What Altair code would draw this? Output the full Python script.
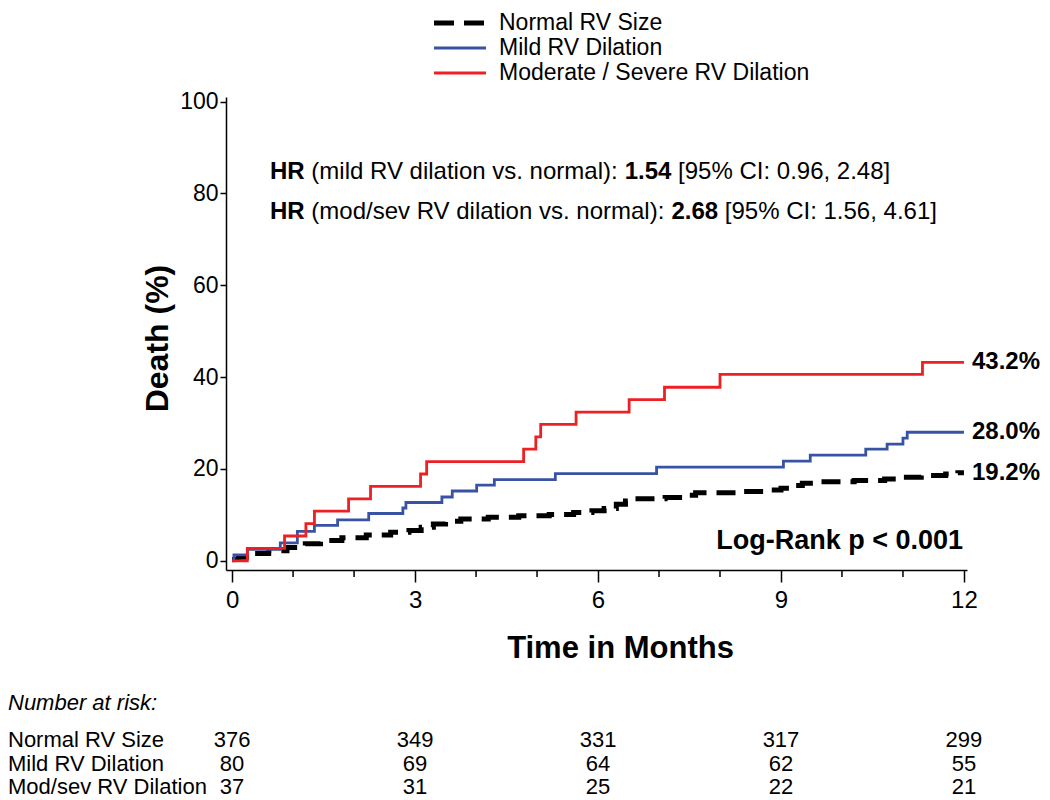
import altair as alt
import pandas as pd

FONT = "Liberation Sans"

# ---------------- data ----------------
series_names = ["Normal RV Size", "Mild RV Dilation", "Moderate / Severe RV Dilation"]
series_colors = ["#000000", "#3953A4", "#ED2024"]

normal_t = [0, 0.1, 0.35, 0.6, 0.9, 1.2, 1.45, 1.8, 2.2, 2.6, 2.9, 3.1, 3.3, 3.5, 3.75,
            4.2, 4.7, 5.2, 5.6, 5.9, 6.1, 6.3, 6.45, 6.6, 7.1, 7.4, 7.6, 8.3, 8.8,
            9.0, 9.15, 9.35, 9.6, 10.2, 10.7, 11.0, 11.3, 11.7, 11.9, 12.0]
normal_v = [0.3, 0.8, 1.6, 2.2, 2.9, 3.7, 4.4, 5.0, 5.6, 6.2, 6.6, 7.3, 8.0, 8.6, 9.1,
            9.5, 9.8, 10.1, 10.5, 10.9, 11.4, 12.3, 13.0, 13.5, 13.8, 14.3, 14.8, 15.1, 15.4,
            15.8, 16.4, 16.9, 17.2, 17.5, 17.8, 18.2, 18.6, 18.9, 19.2, 19.2]

mild_t = [0, 0.03, 0.25, 0.79, 1.07, 1.35, 1.73, 2.24, 2.80, 2.85, 3.44, 3.61, 4.01, 4.30,
          5.30, 6.96, 9.04, 9.48, 10.39, 10.74, 11.00, 11.07, 12.0]
mild_v = [0, 1.3, 2.5, 3.9, 6.4, 7.7, 8.9, 10.3, 11.5, 12.7, 13.9, 15.2, 16.5, 17.7,
          19.0, 20.4, 21.7, 23.0, 24.3, 25.4, 26.7, 28.0, 28.0]

mod_t = [0, 0.25, 0.86, 1.21, 1.35, 1.91, 2.27, 3.09, 3.19, 4.78, 4.98, 5.06, 5.64,
         6.51, 7.09, 8.0, 11.32, 12.0]
mod_v = [0, 2.7, 5.4, 8.1, 10.8, 13.5, 16.2, 18.9, 21.6, 24.3, 27.0, 29.7, 32.4,
         35.1, 37.8, 40.6, 43.2, 43.2]

end_labels = ["43.2%", "28.0%", "19.2%"]
end_values = [43.2, 28.0, 19.2]

risk_months = [0, 3, 6, 9, 12]
risk_labels = ["Normal RV Size", "Mild RV Dilation", "Mod/sev RV Dilation"]
risk_normal = [376, 349, 331, 317, 299]
risk_mild = [80, 69, 64, 62, 55]
risk_mod = [37, 31, 25, 22, 21]

minor_months = [1, 2, 4, 5, 7, 8, 10, 11]

# ---------------- layout ----------------
W, H = 741, 473
x_scale = alt.Scale(domain=[-0.1, 12.05], nice=False, zero=False)
y_scale = alt.Scale(domain=[-2, 101], nice=False, zero=False)


def curve(ts, vs, color, width, dash=None):
    df = pd.DataFrame({"t": ts, "v": vs})
    kw = dict(interpolate="step-after", color=color, strokeWidth=width, clip=False)
    if dash:
        kw["strokeDash"] = dash
    return alt.Chart(df).mark_line(**kw).encode(
        x=alt.X("t:Q", scale=x_scale),
        y=alt.Y("v:Q", scale=y_scale),
    )


base_axes = alt.Chart(pd.DataFrame({"t": [0.0], "v": [0.0]})).mark_point(opacity=0).encode(
    x=alt.X("t:Q", scale=x_scale,
            axis=alt.Axis(values=[0, 3, 6, 9, 12], format="d", tickSize=12, tickWidth=1.5,
                          tickColor="black", domainColor="black", domainWidth=1.5,
                          labelFontSize=24, labelFont=FONT, labelColor="black", labelPadding=6,
                          grid=False, title="Time in Months", titleFont=FONT, titleFontSize=31,
                          titleFontWeight="bold", titleColor="black", titleX=394, titleY=78,
                          titleBaseline="middle", titleAlign="center")),
    y=alt.Y("v:Q", scale=y_scale,
            axis=alt.Axis(values=[0, 20, 40, 60, 80, 100], tickSize=6, tickWidth=1.5,
                          tickColor="black", domainColor="black", domainWidth=1.5,
                          labelFontSize=23, labelFont=FONT, labelColor="black", labelPadding=2,
                          grid=False, title="Death (%)", titleFont=FONT, titleFontSize=32,
                          titleFontWeight="bold", titleColor="black", titleX=-69, titleY=241,
                          titleAngle=270, titleBaseline="middle", titleAlign="center")),
)

minor = alt.Chart(pd.DataFrame({"m": minor_months})).mark_rule(color="black", strokeWidth=1.5).encode(
    x=alt.X("m:Q", scale=x_scale),
    y=alt.value(H),
    y2=alt.value(H + 7),
)

lines = [
    curve(normal_t, normal_v, series_colors[0], 5, [19, 10]),
    curve(mild_t, mild_v, series_colors[1], 2.8),
    curve(mod_t, mod_v, series_colors[2], 2.8),
]

ends = alt.Chart(pd.DataFrame({"t": [12, 12, 12], "v": end_values, "lab": end_labels})).mark_text(
    align="left", baseline="middle", dx=8, font=FONT, fontSize=24, fontWeight="bold", color="black"
).encode(x=alt.X("t:Q", scale=x_scale), y=alt.Y("v:Q", scale=y_scale), text="lab:N")

# legend (manual, top)
legend_layers = []
leg_y = [-74, -49, -24]
leg_dash = [[20, 10], None, None]
leg_w = [5, 3, 3]
for name, col, yy, dsh, lw in zip(series_names, series_colors, leg_y, leg_dash, leg_w):
    kw = dict(color=col, strokeWidth=lw)
    if dsh:
        kw["strokeDash"] = dsh
    legend_layers.append(
        alt.Chart(pd.DataFrame({"k": [name]})).mark_rule(**kw).encode(
            x=alt.value(208), x2=alt.value(260), y=alt.value(yy))
    )
    legend_layers.append(
        alt.Chart(pd.DataFrame({"k": [name]})).mark_text(
            align="left", baseline="middle", font=FONT, fontSize=23, color="black"
        ).encode(x=alt.value(273), y=alt.value(yy), text="k:N")
    )


# HR annotations with mixed bold segments (offsets in em of Arial metrics)
def seg(txt, x, y, bold, size=24):
    return alt.Chart(pd.DataFrame({"s": [txt]})).mark_text(
        align="left", baseline="middle", font=FONT, fontSize=size,
        fontWeight="bold" if bold else "normal", color="black"
    ).encode(x=alt.value(x), y=alt.value(y), text="s:N")


f = 24
x0 = 44
hr = [
    seg("HR", x0, 75, True),
    seg("(mild RV dilation vs. normal):", x0 + 1.722 * f, 75, False),
    seg("1.54", x0 + 14.78 * f, 75, True),
    seg("[95% CI: 0.96, 2.48]", x0 + 17.004 * f, 75, False),
    seg("HR", x0, 115, True),
    seg("(mod/sev RV dilation vs. normal):", x0 + 1.722 * f, 115, False),
    seg("2.68", x0 + 16.726 * f, 115, True),
    seg("[95% CI: 1.56, 4.61]", x0 + 18.95 * f, 115, False),
]

logrank = alt.Chart(pd.DataFrame({"s": ["Log-Rank p < 0.001"]})).mark_text(
    align="right", baseline="middle", font=FONT, fontSize=27, fontWeight="bold", color="black"
).encode(x=alt.value(737), y=alt.value(444), text="s:N")

# number at risk table
table = [alt.Chart(pd.DataFrame({"s": ["Number at risk:"]})).mark_text(
    align="left", baseline="middle", font=FONT, fontSize=22, fontStyle="italic", color="black"
).encode(x=alt.value(-218), y=alt.value(606), text="s:N")]
row_y = [643, 667, 690]
for lab, counts, yy in zip(risk_labels, [risk_normal, risk_mild, risk_mod], row_y):
    table.append(seg(lab, -218, yy, False, 22))
    table.append(
        alt.Chart(pd.DataFrame({"t": risk_months, "n": counts})).mark_text(
            align="center", baseline="middle", font=FONT, fontSize=22, color="black"
        ).encode(x=alt.X("t:Q", scale=x_scale), y=alt.value(yy), text="n:Q")
    )

chart = alt.layer(base_axes, minor, *lines, ends, *legend_layers, *hr, logrank, *table).properties(
    width=W, height=H,
    autosize=alt.AutoSizeParams(type="none"),
    padding={"left": 218, "top": 89, "right": 75, "bottom": 230},
).configure(background="white").configure_view(stroke=None, strokeWidth=0)

chart.save("out.html", embed_options={"renderer": "svg", "actions": False})
